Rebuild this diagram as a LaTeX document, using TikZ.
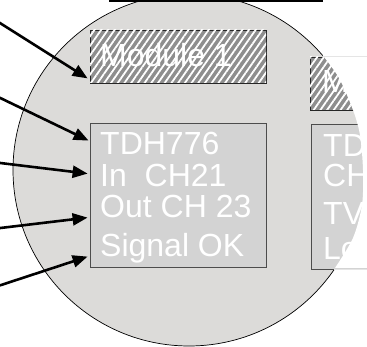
\documentclass[tikz,border=0pt]{standalone}
\usepackage{fontspec}
\setmainfont{Liberation Sans}
\usetikzlibrary{arrows.meta,patterns.meta}
\definecolor{disc}{HTML}{DCDBD9}
\definecolor{boxgray}{HTML}{D3D3D3}
\definecolor{hatchgray}{HTML}{8E8E8E}
\begin{document}
\begin{tikzpicture}[x=1pt,y=-1pt,
  hatchbox/.style={draw=black!85, line width=0.8pt, fill=hatchgray, inner sep=0pt,
    postaction={pattern={Lines[angle=55,distance=5.5pt,line width=1.8pt]}, pattern color=white}},
  infobox/.style={draw=black!70, line width=0.8pt, fill=boxgray, inner sep=0pt},
  txt/.style={anchor=base west, inner sep=0pt, text=white, font=\fontsize{32}{32}\selectfont},
  pointer/.style={line width=2.6pt, -{Triangle[length=15pt,width=12pt]}}
]
\useasboundingbox (0,0) rectangle (367,347);
\clip (0,0) rectangle (367,347);
% disc
\node[circle, draw=black, line width=0.7pt, fill=disc, minimum size=352pt, inner sep=0pt] (disc) at (189,170) {};
% box above, only its lower edge shows
\draw[line width=2pt] (110,-20) rectangle (322,0.6);
% boxes
\node[hatchbox, minimum width=176pt, minimum height=53pt] (m1) at (178,56.5) {};
\node[hatchbox, minimum width=90pt, minimum height=53pt] (m2) at (355,83.5) {};
\node[infobox, minimum width=176pt, minimum height=144pt] (tdh) at (178,195) {};
\node[infobox, minimum width=90pt, minimum height=145pt] (tdb) at (356,196.5) {};
% texts
\node[txt] (m1t) at (100,67) {Module 1};
\node[txt] (m2t) at (322,93) {M};
\node[txt] (l1) at (100,155) {TDH776};
\node[txt] (l2) at (100,187) {In\ \ CH21};
\node[txt] (l3) at (100,218) {Out CH 23};
\node[txt] (l4) at (100,257) {Signal OK};
\node[txt] (r1) at (323,157) {TD};
\node[txt] (r2) at (323,187) {CH};
\node[txt] (r3) at (323,225) {TV};
\node[txt] (r4) at (323,260) {Lo};
% white overlay cutting the right side
\fill[white] plot[smooth] coordinates {(322.5,55) (339,78) (353,110) (360,135) (363,170) (362,205) (353,238) (335,268)} -- (370,268) -- (370,55) -- cycle;
\draw[black!10, line width=0.6pt] (323,56) -- (367,56);
\draw[black!10, line width=0.6pt] (334,269) -- (367,269);
% pointers
\coordinate (a1) at (-8,18);
\coordinate (a2) at (-8,94);
\coordinate (a3) at (-8,162);
\coordinate (a4) at (-8,229);
\coordinate (a5) at (-8,288);
\draw[pointer] (a1) -- ([shift={(-2,-5)}]m1.south west);
\draw[pointer] (a2) -- ([shift={(-1,18)}]tdh.north west);
\draw[pointer] (a3) -- ([shift={(-2,51)}]tdh.north west);
\draw[pointer] (a4) -- ([shift={(-2,95)}]tdh.north west);
\draw[pointer] (a5) -- ([shift={(-2,134)}]tdh.north west);
\end{tikzpicture}
\end{document}
